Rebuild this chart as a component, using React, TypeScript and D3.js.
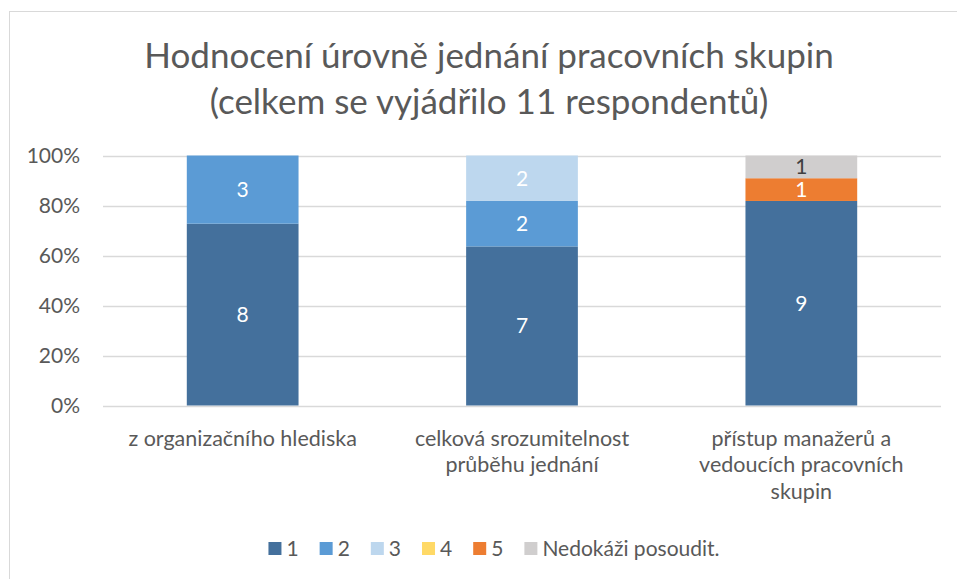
import React, { useEffect, useRef } from "react";
import * as d3 from "d3";

const categories = [
  ["z organizačního hlediska"],
  ["celková srozumitelnost", "průběhu jednání"],
  ["přístup manažerů a", "vedoucích pracovních", "skupin"],
];
const seriesNames = ["1", "2", "3", "4", "5", "Nedokáži posoudit."];
const series1 = [8, 7, 9];
const series2 = [3, 2, 0];
const series3 = [0, 2, 0];
const series4 = [0, 0, 0];
const series5 = [0, 0, 1];
const seriesUnknown = [0, 0, 1];
const colors = ["#44709c", "#5b9bd5", "#bdd7ee", "#ffd966", "#ed7d31", "#d0cece"];
const labelColors = ["#fff", "#fff", "#fff", "#fff", "#fff", "#404040"];
const yTicks = [0, 0.2, 0.4, 0.6, 0.8, 1];
const titleLines = [
  "Hodnocení úrovně jednání pracovních skupin",
  "(celkem se vyjádřilo 11 respondentů)",
];

const FONT = "Lato, 'Open Sans', sans-serif";

const App = () => {
  const ref = useRef<SVGSVGElement>(null);

  useEffect(() => {
    const width = 957;
    const height = 579;
    const svg = d3.select(ref.current).attr("width", width).attr("height", height);
    svg.selectAll("*").remove();

    svg
      .append("rect")
      .attr("x", 9.5)
      .attr("y", 11.5)
      .attr("width", 980)
      .attr("height", 600)
      .attr("fill", "#fff")
      .attr("stroke", "#d9d9d9");

    // title
    svg
      .append("g")
      .selectAll("text")
      .data(titleLines)
      .enter()
      .append("text")
      .attr("x", 489)
      .attr("y", (d, i) => 68 + i * 46)
      .attr("text-anchor", "middle")
      .style("font-family", FONT)
      .style("font-size", "35px")
      .style("fill", "#595959")
      .text((d) => d);

    const keys = seriesNames.map((_, i) => String(i));
    const allSeries = [series1, series2, series3, series4, series5, seriesUnknown];
    const rows = categories.map((c, ci) => {
      const row: any = { cat: c.join(" ") };
      allSeries.forEach((s, si) => (row[String(si)] = s[ci]));
      return row;
    });

    const x = d3
      .scaleBand()
      .domain(rows.map((r) => r.cat))
      .range([103, 941])
      .paddingInner(0.6)
      .paddingOuter(0.3);
    const y = d3.scaleLinear().domain([0, 1]).range([405.5, 155.5]);

    // gridlines
    svg
      .append("g")
      .selectAll("line")
      .data(yTicks)
      .enter()
      .append("line")
      .attr("x1", 103)
      .attr("x2", 941)
      .attr("y1", (d) => Math.round(y(d)) + 0.5)
      .attr("y2", (d) => Math.round(y(d)) + 0.5)
      .attr("stroke", "#d9d9d9")
      .attr("stroke-width", 1.5);

    svg
      .append("g")
      .selectAll("text")
      .data(yTicks)
      .enter()
      .append("text")
      .attr("x", 80)
      .attr("y", (d) => y(d))
      .attr("dy", "0.35em")
      .attr("text-anchor", "end")
      .style("font-family", FONT)
      .style("font-size", "21px")
      .style("fill", "#595959")
      .text((d) => d3.format(".0%")(d));

    const stacked = d3.stack().keys(keys).offset(d3.stackOffsetExpand)(rows);

    const layers = svg
      .append("g")
      .selectAll("g")
      .data(stacked)
      .enter()
      .append("g")
      .attr("fill", (d, i) => colors[i]);

    layers
      .selectAll("rect")
      .data((d) => d.map((p) => ({ p, cat: p.data.cat })))
      .enter()
      .append("rect")
      .attr("x", (d) => x(d.cat)!)
      .attr("width", x.bandwidth())
      .attr("y", (d) => y(d.p[1]))
      .attr("height", (d) => y(d.p[0]) - y(d.p[1]));

    stacked.forEach((layer, li) => {
      svg
        .append("g")
        .selectAll("text")
        .data(layer.filter((p) => (p.data as any)[String(li)] > 0))
        .enter()
        .append("text")
        .attr("x", (p) => x((p.data as any).cat)! + x.bandwidth() / 2)
        .attr("y", (p) => (y(p[0]) + y(p[1])) / 2)
        .attr("dy", "0.35em")
        .attr("text-anchor", "middle")
        .style("font-family", FONT)
        .style("font-size", "21px")
        .style("fill", labelColors[li])
        .text((p) => (p.data as any)[String(li)]);
    });

    // category labels
    categories.forEach((lines, ci) => {
      const cx = x(rows[ci].cat)! + x.bandwidth() / 2;
      svg
        .append("g")
        .selectAll("text")
        .data(lines)
        .enter()
        .append("text")
        .attr("x", cx)
        .attr("y", (d, i) => 438 + i * 26.5)
        .attr("dy", "0.35em")
        .attr("text-anchor", "middle")
        .style("font-family", FONT)
        .style("font-size", "21.5px")
        .style("fill", "#595959")
        .text((d) => d);
    });

    // legend
    const legend = svg.append("g");
    let cursor = 0;
    seriesNames.forEach((name, i) => {
      const item = legend.append("g").attr("transform", `translate(${cursor},0)`);
      item
        .append("rect")
        .attr("x", 0)
        .attr("y", -7)
        .attr("width", 13)
        .attr("height", 13)
        .attr("fill", colors[i]);
      const t = item
        .append("text")
        .attr("x", 18)
        .attr("dy", "0.35em")
        .style("font-family", FONT)
        .style("font-size", "21px")
        .style("fill", "#595959")
        .text(name);
      const w = (t.node() as SVGTextElement).getComputedTextLength();
      cursor += 18 + w + 21;
    });
    const total = cursor - 21;
    legend.attr("transform", `translate(${494 - total / 2},549)`);
  }, []);

  return (
    <svg
      ref={ref}
      style={{ position: "absolute", left: 0, top: 0, display: "block" }}
    ></svg>
  );
};

export default App;
